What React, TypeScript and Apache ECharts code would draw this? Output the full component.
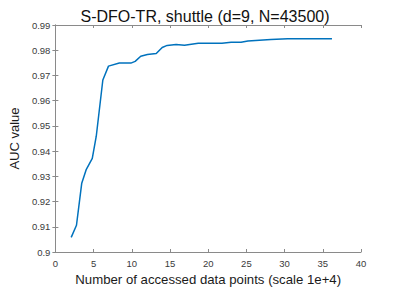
import React, { useEffect, useRef } from "react";
import * as echarts from "echarts";

const titleText = "S-DFO-TR, shuttle (d=9, N=43500)";
const xName = "Number of accessed data points (scale 1e+4)";
const yName = "AUC value";

const xValues = [2.07, 2.76, 3.45, 4.05, 4.83, 5.35, 6.21, 6.95, 8.37, 9.88, 10.44, 11.17, 12.04, 13.2, 13.98, 14.63, 15.8, 16.9, 18.7, 21.8, 23.0, 24.3, 25.2, 28.2, 30.4, 36.2];
const aucValues = [0.9058, 0.9106, 0.9273, 0.9328, 0.9371, 0.9459, 0.9682, 0.9737, 0.9749, 0.9749, 0.9756, 0.9776, 0.9783, 0.9787, 0.9811, 0.9819, 0.9823, 0.982, 0.9828, 0.9828, 0.9832, 0.9832, 0.9837, 0.9843, 0.9845, 0.9845];

const axisGray = "#8a8a8a";
const textGray = "#3a3a3a";
const font = "Liberation Sans, Arial, Helvetica, sans-serif";

export default function App() {
  const ref = useRef<HTMLDivElement>(null);
  useEffect(() => {
    if (!ref.current) return;
    const chart = echarts.init(ref.current, null, { renderer: "svg" });
    const yFmt = (v: number) => String(Math.round(v * 100) / 100);
    const common = { min: 0, max: 40, interval: 5 };
    const commonY = { min: 0.9, max: 0.99, interval: 0.01 };
    chart.setOption({
      animation: false,
      backgroundColor: "#ffffff",
      title: {
        text: titleText,
        left: 200,
        textAlign: "center",
        top: 3,
        textStyle: { fontFamily: font, fontSize: 16, fontWeight: "normal", color: "#111" },
      },
      grid: { left: 52, right: 38, top: 25, bottom: 35, containLabel: false },
      xAxis: [
        {
          type: "value",
          ...common,
          position: "bottom",
          name: xName,
          nameLocation: "middle",
          nameGap: 21,
          nameTextStyle: { fontFamily: font, fontSize: 13.2, color: "#1a1a1a" },
          axisLine: { show: true, lineStyle: { color: axisGray, width: 1 } },
          axisTick: { show: true, inside: true, length: 3, lineStyle: { color: axisGray } },
          axisLabel: { fontFamily: font, fontSize: 9.5, color: textGray, margin: 6 },
          splitLine: { show: false },
        },
        {
          type: "value",
          ...common,
          position: "top",
          axisLine: { show: true, lineStyle: { color: axisGray, width: 1 } },
          axisTick: { show: true, inside: true, length: 3, lineStyle: { color: axisGray } },
          axisLabel: { show: false },
          splitLine: { show: false },
        },
      ],
      yAxis: [
        {
          type: "value",
          ...commonY,
          position: "left",
          name: yName,
          nameLocation: "middle",
          nameGap: 25,
          nameTextStyle: { fontFamily: font, fontSize: 13, color: "#1a1a1a" },
          axisLine: { show: true, lineStyle: { color: axisGray, width: 1 } },
          axisTick: { show: true, inside: true, length: 3, lineStyle: { color: axisGray } },
          axisLabel: { fontFamily: font, fontSize: 9.5, color: textGray, margin: 5, formatter: yFmt },
          splitLine: { show: false },
        },
        {
          type: "value",
          ...commonY,
          position: "right",
          axisLine: { show: true, lineStyle: { color: axisGray, width: 1 } },
          axisTick: { show: true, inside: true, length: 3, lineStyle: { color: axisGray } },
          axisLabel: { show: false },
          splitLine: { show: false },
        },
      ],
      series: [
        {
          type: "line",
          xAxisIndex: 0,
          yAxisIndex: 0,
          data: xValues.map((x, i) => [x, aucValues[i]]),
          showSymbol: false,
          lineStyle: { color: "#0072BD", width: 1.5 },
        },
      ],
    });
    return () => chart.dispose();
  }, []);
  return <div ref={ref} style={{ width: 399, height: 291, position: "absolute", left: 0, top: 0 }} />;
}
